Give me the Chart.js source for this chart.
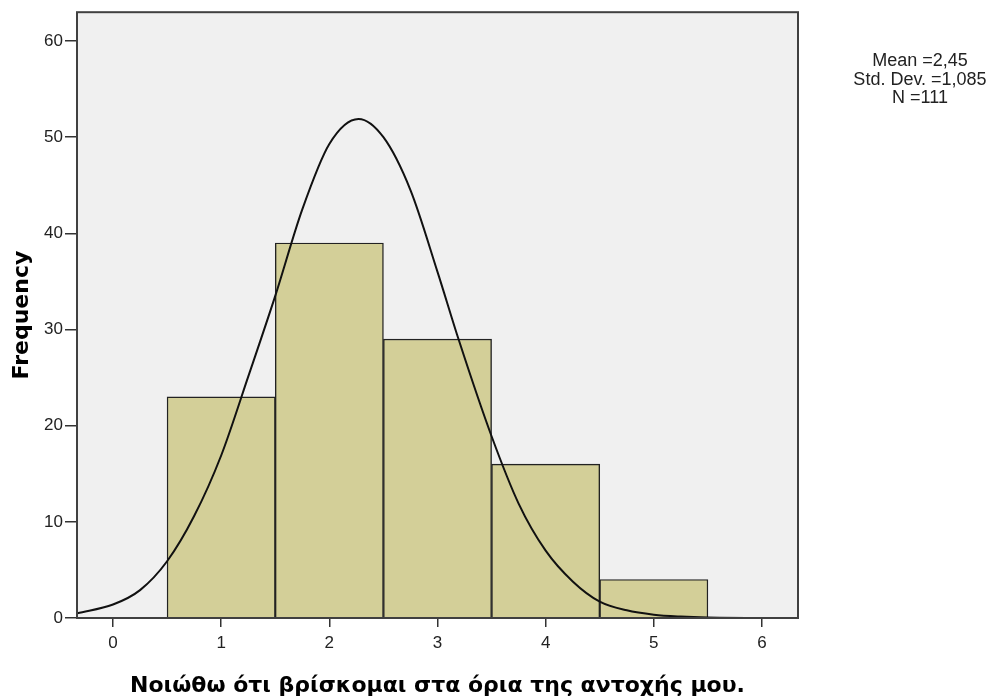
<!DOCTYPE html>
<html>
<head>
<meta charset="utf-8">
<script src="https://cdn.jsdelivr.net/npm/chart.js@4.4.0/dist/chart.umd.min.js"></script>
<style>
  html, body { margin: 0; padding: 0; background: #fff; }
  #wrap { width: 1000px; height: 699px; }
</style>
</head>
<body>
<div id="wrap"><canvas id="hist" width="1000" height="699"></canvas></div>
<script>
// histogram bins (centres) and counts
let binCenters = [1, 2, 3, 4, 5];
let binCounts = [23, 39, 29, 16, 4];

// normal curve
let curveX = [-0.33, 0, 0.25, 0.5, 0.75, 1.0, 1.25, 1.5, 1.75, 2.0, 2.27, 2.5, 2.75, 3.0, 3.2, 3.5, 3.75, 4.0, 4.25, 4.5, 4.75, 5.0, 5.25, 5.5, 6.0, 6.33];
let curveY = [0.5, 1.4, 2.9, 5.9, 10.6, 16.9, 25.1, 33.5, 42.5, 49.3, 51.9, 50.0, 44.5, 36.0, 28.8, 18.9, 11.9, 7.0, 3.8, 1.7, 0.8, 0.35, 0.15, 0.05, 0, 0];

let xTicks = [0, 1, 2, 3, 4, 5, 6];
let yTicks = [0, 10, 20, 30, 40, 50, 60];

let statsLines = ['Mean =2,45', 'Std. Dev. =1,085', 'N =111'];

let xTitle = 'Νοιώθω ότι βρίσκομαι στα όρια της αντοχής μου.';
let yTitle = 'Frequency';

const plotBox = {
  id: 'plotBox',
  beforeDatasetsDraw(chart) {
    const a = chart.chartArea, c = chart.ctx;
    c.save();
    c.fillStyle = '#f0f0f0';
    c.fillRect(a.left, a.top, a.right - a.left, a.bottom - a.top);
    c.restore();
  },
  afterDatasetsDraw(chart) {
    const a = chart.chartArea, c = chart.ctx;
    c.save();
    c.strokeStyle = '#404040';
    c.lineWidth = 2;
    c.strokeRect(a.left, a.top, a.right - a.left, a.bottom - a.top);
    c.restore();
  },
  afterDraw(chart) {
    const c = chart.ctx;
    c.save();
    c.fillStyle = '#222';
    c.font = '18px "Liberation Sans", Arial, sans-serif';
    c.textAlign = 'center';
    c.textBaseline = 'alphabetic';
    statsLines.forEach((t, i) => c.fillText(t, 920, 66 + i * 18.5));
    c.restore();
  }
};

Chart.defaults.font.family = '"Liberation Sans", Arial, sans-serif';
Chart.defaults.color = '#222';

let ctx = document.getElementById('hist').getContext('2d');

let chart = new Chart(ctx, {
  type: 'bar',
  data: {
    datasets: [
      {
        type: 'line',
        data: curveX.map((x, i) => ({ x: x, y: curveY[i] })),
        borderColor: '#111',
        borderWidth: 2,
        pointRadius: 0,
        fill: false,
        cubicInterpolationMode: 'monotone',
        order: 0
      },
      {
        type: 'bar',
        data: binCenters.map((x, i) => ({ x: x, y: binCounts[i] })),
        backgroundColor: '#d3cf98',
        borderColor: '#222',
        borderWidth: 1.4,
        barPercentage: 1,
        categoryPercentage: 1,
        order: 1
      }
    ]
  },
  options: {
    responsive: false,
    animation: false,
    layout: { padding: { left: 0, right: 202, top: 11, bottom: 0 } },
    plugins: {
      legend: { display: false },
      tooltip: { enabled: false }
    },
    scales: {
      x: {
        type: 'linear',
        offset: false,
        min: -0.333,
        max: 6.333,
        afterBuildTicks: s => { s.ticks = xTicks.map(v => ({ value: v })); },
        afterFit: s => { s.height = 81; },
        grid: { drawOnChartArea: false, offset: false, tickLength: 9, color: '#333', lineWidth: 1.5 },
        border: { display: false },
        ticks: { font: { size: 17 }, padding: 6, color: '#222' },
        title: {
          display: true,
          text: xTitle,
          font: { family: '"DejaVu Sans", Verdana, sans-serif', size: 22, weight: 'bold' },
          color: '#000',
          padding: { top: 0, bottom: 0 }
        }
      },
      y: {
        min: 0,
        max: 63,
        afterBuildTicks: s => { s.ticks = yTicks.map(v => ({ value: v })); },
        afterFit: s => { s.width = 77; },
        grid: { drawOnChartArea: false, tickLength: 12, color: '#333', lineWidth: 1.5 },
        border: { display: false },
        ticks: { font: { size: 17 }, padding: 2, color: '#222' },
        title: {
          display: true,
          text: yTitle,
          font: { family: '"DejaVu Sans", Verdana, sans-serif', size: 22, weight: 'bold' },
          color: '#000',
          padding: { top: 9, bottom: 0 }
        }
      }
    }
  },
  plugins: [plotBox]
});
</script>
</body>
</html>
